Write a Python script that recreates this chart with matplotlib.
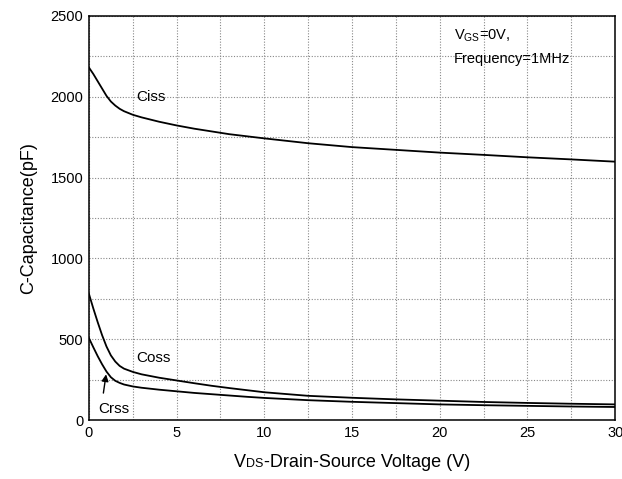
import numpy as np
import matplotlib.pyplot as plt
from matplotlib.offsetbox import TextArea, HPacker, AnchoredOffsetbox

plt.rcParams['font.family'] = ['Liberation Sans', 'DejaVu Sans']

# Datos (V, pF)
vds = [0, 0.25, 0.5, 0.75, 1.0, 1.25, 1.5, 1.75, 2.0, 2.5, 3, 4, 5, 6, 7, 8, 9, 10,
       12.5, 15, 17.5, 20, 22.5, 25, 27.5, 30]
ciss = [2180, 2140, 2095, 2050, 2005, 1970, 1945, 1925, 1910, 1888, 1872, 1845, 1822,
        1802, 1785, 1768, 1755, 1742, 1712, 1688, 1671, 1654, 1640, 1625, 1612, 1598]
coss = [780, 690, 605, 525, 455, 400, 362, 335, 318, 298, 283, 262, 245,
        228, 212, 198, 185, 172, 150, 138, 128, 120, 112, 106, 101, 97]
crss = [507, 450, 395, 345, 300, 265, 243, 230, 220, 208, 200, 188, 178,
        168, 160, 152, 144, 137, 123, 113, 105, 97, 92, 88, 84, 81]

fig = plt.figure(figsize=(6.22, 4.79), dpi=100)
ax = fig.add_axes([0.143, 0.123, 0.846, 0.844])

for serie in (ciss, coss, crss):
    ax.plot(vds, serie, color='black', lw=1.3)

ax.set_xlim(0, 30)
ax.set_ylim(0, 2500)
ax.set_xticks(np.arange(0, 31, 5))
ax.set_xticks(np.arange(0, 31, 2.5), minor=True)
ax.set_yticks(np.arange(0, 2501, 500))
ax.set_yticks(np.arange(0, 2501, 250), minor=True)
ax.grid(True, which='both', color='#888888', linestyle=(0, (1, 1.5)), linewidth=0.8)
ax.tick_params(which='both', length=0, labelsize=10.5, pad=4)
for s in ax.spines.values():
    s.set_linewidth(1.1)

ax.set_ylabel('C-Capacitance(pF)', fontsize=13, labelpad=10)

# Etiqueta del eje x con "DS" en tamaño menor
partes = HPacker(children=[TextArea('V', textprops=dict(size=13)),
                           TextArea('DS', textprops=dict(size=9)),
                           TextArea('-Drain-Source Voltage (V)', textprops=dict(size=13))],
                 align='baseline', pad=0, sep=0)
caja = AnchoredOffsetbox(loc='center', child=partes, frameon=False,
                         bbox_to_anchor=(0.5, -0.105), bbox_transform=ax.transAxes)
ax.add_artist(caja)

ax.text(2.7, 1995, 'Ciss', fontsize=11, ha='left', va='center')
ax.text(2.7, 385, 'Coss', fontsize=11, ha='left', va='center')
ax.text(0.55, 70, 'Crss', fontsize=11, ha='left', va='center')
ax.annotate('', xy=(1.0, 300), xytext=(0.8, 150),
            arrowprops=dict(arrowstyle='-|>', color='black', lw=1, mutation_scale=10))
ax.text(20.8, 2380, r'V$_{\mathregular{GS}}$=0V,', fontsize=10.5, ha='left', va='center')
ax.text(20.8, 2235, 'Frequency=1MHz', fontsize=10.5, ha='left', va='center')

fig.savefig('out.png', dpi=100)
